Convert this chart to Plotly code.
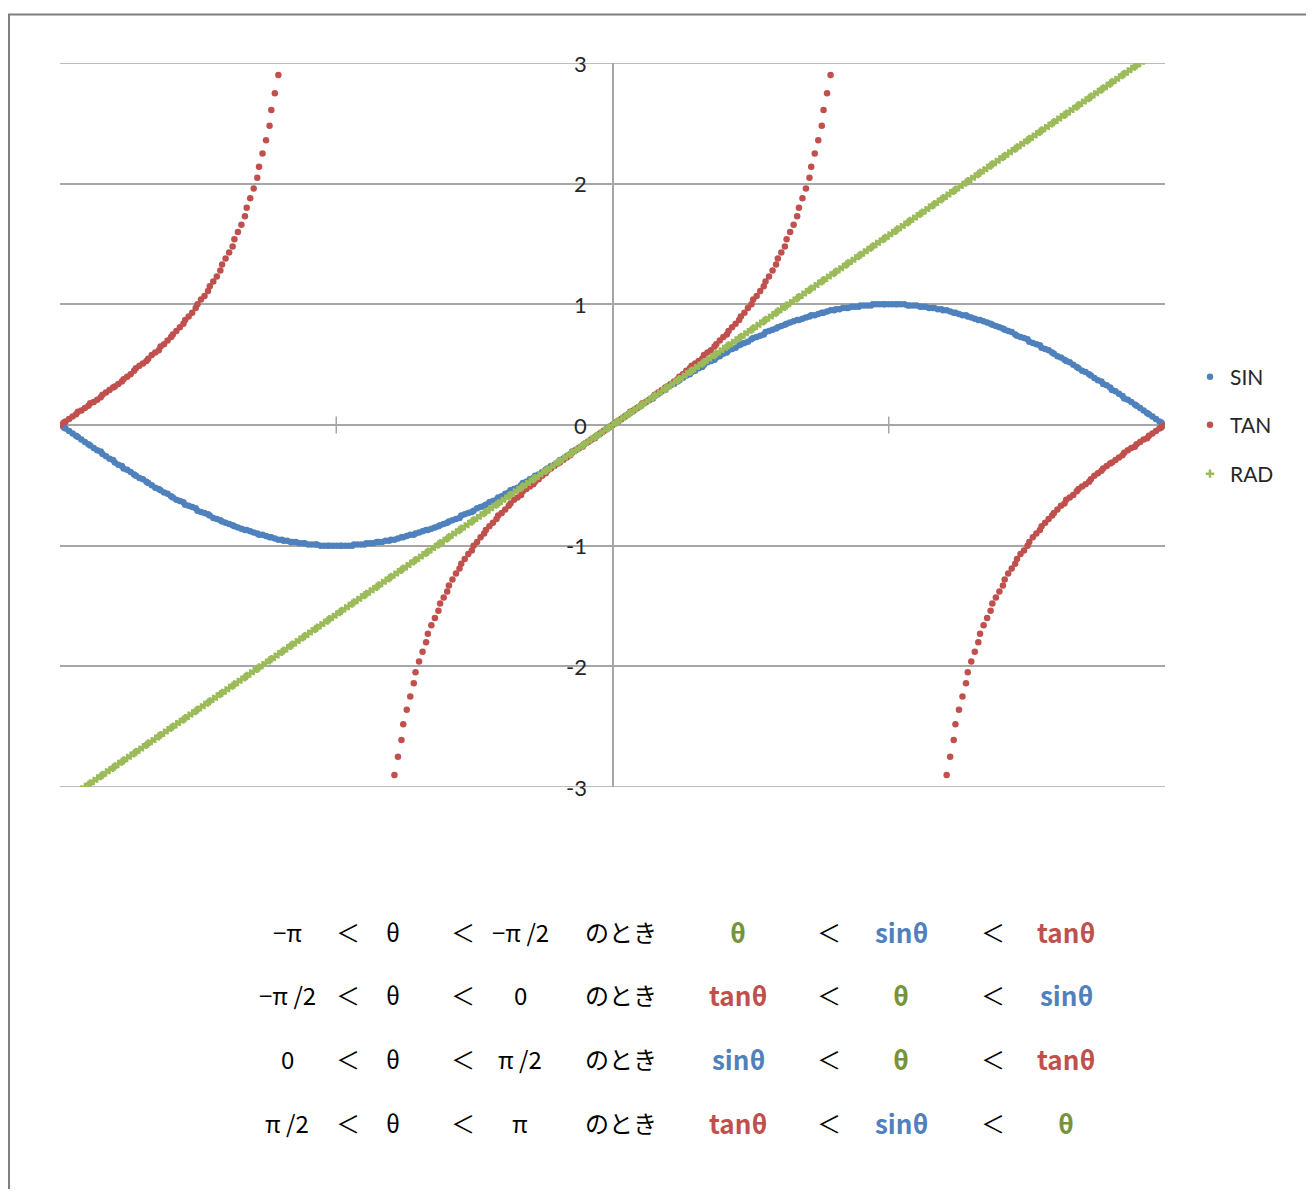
import math
import plotly.graph_objects as go

# ---------------- data (one point per degree, -180..180) ----------------
# RAD column: theta in radians (used as x for every series and as the RAD series)
RAD = [
    -3.14, -3.12, -3.11, -3.09, -3.07, -3.05, -3.04, -3.02, -3.00, -2.98,
    -2.97, -2.95, -2.93, -2.91, -2.90, -2.88, -2.86, -2.84, -2.83, -2.81,
    -2.79, -2.78, -2.76, -2.74, -2.72, -2.71, -2.69, -2.67, -2.65, -2.64,
    -2.62, -2.60, -2.58, -2.57, -2.55, -2.53, -2.51, -2.50, -2.48, -2.46,
    -2.44, -2.43, -2.41, -2.39, -2.37, -2.36, -2.34, -2.32, -2.30, -2.29,
    -2.27, -2.25, -2.23, -2.22, -2.20, -2.18, -2.16, -2.15, -2.13, -2.11,
    -2.09, -2.08, -2.06, -2.04, -2.02, -2.01, -1.99, -1.97, -1.95, -1.94,
    -1.92, -1.90, -1.88, -1.87, -1.85, -1.83, -1.82, -1.80, -1.78, -1.76,
    -1.75, -1.73, -1.71, -1.69, -1.68, -1.66, -1.64, -1.62, -1.61, -1.59,
    -1.57, -1.55, -1.54, -1.52, -1.50, -1.48, -1.47, -1.45, -1.43, -1.41,
    -1.40, -1.38, -1.36, -1.34, -1.33, -1.31, -1.29, -1.27, -1.26, -1.24,
    -1.22, -1.20, -1.19, -1.17, -1.15, -1.13, -1.12, -1.10, -1.08, -1.06,
    -1.05, -1.03, -1.01, -0.99, -0.98, -0.96, -0.94, -0.93, -0.91, -0.89,
    -0.87, -0.86, -0.84, -0.82, -0.80, -0.79, -0.77, -0.75, -0.73, -0.72,
    -0.70, -0.68, -0.66, -0.65, -0.63, -0.61, -0.59, -0.58, -0.56, -0.54,
    -0.52, -0.51, -0.49, -0.47, -0.45, -0.44, -0.42, -0.40, -0.38, -0.37,
    -0.35, -0.33, -0.31, -0.30, -0.28, -0.26, -0.24, -0.23, -0.21, -0.19,
    -0.17, -0.16, -0.14, -0.12, -0.10, -0.09, -0.07, -0.05, -0.03, -0.02,
    0.00, 0.02, 0.03, 0.05, 0.07, 0.09, 0.10, 0.12, 0.14, 0.16,
    0.17, 0.19, 0.21, 0.23, 0.24, 0.26, 0.28, 0.30, 0.31, 0.33,
    0.35, 0.37, 0.38, 0.40, 0.42, 0.44, 0.45, 0.47, 0.49, 0.51,
    0.52, 0.54, 0.56, 0.58, 0.59, 0.61, 0.63, 0.65, 0.66, 0.68,
    0.70, 0.72, 0.73, 0.75, 0.77, 0.79, 0.80, 0.82, 0.84, 0.86,
    0.87, 0.89, 0.91, 0.93, 0.94, 0.96, 0.98, 0.99, 1.01, 1.03,
    1.05, 1.06, 1.08, 1.10, 1.12, 1.13, 1.15, 1.17, 1.19, 1.20,
    1.22, 1.24, 1.26, 1.27, 1.29, 1.31, 1.33, 1.34, 1.36, 1.38,
    1.40, 1.41, 1.43, 1.45, 1.47, 1.48, 1.50, 1.52, 1.54, 1.55,
    1.57, 1.59, 1.61, 1.62, 1.64, 1.66, 1.68, 1.69, 1.71, 1.73,
    1.75, 1.76, 1.78, 1.80, 1.82, 1.83, 1.85, 1.87, 1.88, 1.90,
    1.92, 1.94, 1.95, 1.97, 1.99, 2.01, 2.02, 2.04, 2.06, 2.08,
    2.09, 2.11, 2.13, 2.15, 2.16, 2.18, 2.20, 2.22, 2.23, 2.25,
    2.27, 2.29, 2.30, 2.32, 2.34, 2.36, 2.37, 2.39, 2.41, 2.43,
    2.44, 2.46, 2.48, 2.50, 2.51, 2.53, 2.55, 2.57, 2.58, 2.60,
    2.62, 2.64, 2.65, 2.67, 2.69, 2.71, 2.72, 2.74, 2.76, 2.78,
    2.79, 2.81, 2.83, 2.84, 2.86, 2.88, 2.90, 2.91, 2.93, 2.95,
    2.97, 2.98, 3.00, 3.02, 3.04, 3.05, 3.07, 3.09, 3.11, 3.12,
    3.14,
]

SIN = [
    0.00, -0.02, -0.03, -0.05, -0.07, -0.09, -0.10, -0.12, -0.14, -0.16,
    -0.17, -0.19, -0.21, -0.22, -0.24, -0.26, -0.28, -0.29, -0.31, -0.33,
    -0.34, -0.36, -0.37, -0.39, -0.41, -0.42, -0.44, -0.45, -0.47, -0.48,
    -0.50, -0.52, -0.53, -0.54, -0.56, -0.57, -0.59, -0.60, -0.62, -0.63,
    -0.64, -0.66, -0.67, -0.68, -0.69, -0.71, -0.72, -0.73, -0.74, -0.75,
    -0.77, -0.78, -0.79, -0.80, -0.81, -0.82, -0.83, -0.84, -0.85, -0.86,
    -0.87, -0.87, -0.88, -0.89, -0.90, -0.91, -0.91, -0.92, -0.93, -0.93,
    -0.94, -0.95, -0.95, -0.96, -0.96, -0.97, -0.97, -0.97, -0.98, -0.98,
    -0.98, -0.99, -0.99, -0.99, -0.99, -1.00, -1.00, -1.00, -1.00, -1.00,
    -1.00, -1.00, -1.00, -1.00, -1.00, -1.00, -0.99, -0.99, -0.99, -0.99,
    -0.98, -0.98, -0.98, -0.97, -0.97, -0.97, -0.96, -0.96, -0.95, -0.95,
    -0.94, -0.93, -0.93, -0.92, -0.91, -0.91, -0.90, -0.89, -0.88, -0.87,
    -0.87, -0.86, -0.85, -0.84, -0.83, -0.82, -0.81, -0.80, -0.79, -0.78,
    -0.77, -0.75, -0.74, -0.73, -0.72, -0.71, -0.69, -0.68, -0.67, -0.66,
    -0.64, -0.63, -0.62, -0.60, -0.59, -0.57, -0.56, -0.54, -0.53, -0.52,
    -0.50, -0.48, -0.47, -0.45, -0.44, -0.42, -0.41, -0.39, -0.37, -0.36,
    -0.34, -0.33, -0.31, -0.29, -0.28, -0.26, -0.24, -0.22, -0.21, -0.19,
    -0.17, -0.16, -0.14, -0.12, -0.10, -0.09, -0.07, -0.05, -0.03, -0.02,
    0.00, 0.02, 0.03, 0.05, 0.07, 0.09, 0.10, 0.12, 0.14, 0.16,
    0.17, 0.19, 0.21, 0.22, 0.24, 0.26, 0.28, 0.29, 0.31, 0.33,
    0.34, 0.36, 0.37, 0.39, 0.41, 0.42, 0.44, 0.45, 0.47, 0.48,
    0.50, 0.52, 0.53, 0.54, 0.56, 0.57, 0.59, 0.60, 0.62, 0.63,
    0.64, 0.66, 0.67, 0.68, 0.69, 0.71, 0.72, 0.73, 0.74, 0.75,
    0.77, 0.78, 0.79, 0.80, 0.81, 0.82, 0.83, 0.84, 0.85, 0.86,
    0.87, 0.87, 0.88, 0.89, 0.90, 0.91, 0.91, 0.92, 0.93, 0.93,
    0.94, 0.95, 0.95, 0.96, 0.96, 0.97, 0.97, 0.97, 0.98, 0.98,
    0.98, 0.99, 0.99, 0.99, 0.99, 1.00, 1.00, 1.00, 1.00, 1.00,
    1.00, 1.00, 1.00, 1.00, 1.00, 1.00, 0.99, 0.99, 0.99, 0.99,
    0.98, 0.98, 0.98, 0.97, 0.97, 0.97, 0.96, 0.96, 0.95, 0.95,
    0.94, 0.93, 0.93, 0.92, 0.91, 0.91, 0.90, 0.89, 0.88, 0.87,
    0.87, 0.86, 0.85, 0.84, 0.83, 0.82, 0.81, 0.80, 0.79, 0.78,
    0.77, 0.75, 0.74, 0.73, 0.72, 0.71, 0.69, 0.68, 0.67, 0.66,
    0.64, 0.63, 0.62, 0.60, 0.59, 0.57, 0.56, 0.54, 0.53, 0.52,
    0.50, 0.48, 0.47, 0.45, 0.44, 0.42, 0.41, 0.39, 0.37, 0.36,
    0.34, 0.33, 0.31, 0.29, 0.28, 0.26, 0.24, 0.22, 0.21, 0.19,
    0.17, 0.16, 0.14, 0.12, 0.10, 0.09, 0.07, 0.05, 0.03, 0.02,
    0.00,
]

# None = point off the visible -3..3 range
TAN = [
    0.00, 0.02, 0.03, 0.05, 0.07, 0.09, 0.11, 0.12, 0.14, 0.16,
    0.18, 0.19, 0.21, 0.23, 0.25, 0.27, 0.29, 0.31, 0.32, 0.34,
    0.36, 0.38, 0.40, 0.42, 0.45, 0.47, 0.49, 0.51, 0.53, 0.55,
    0.58, 0.60, 0.62, 0.65, 0.67, 0.70, 0.73, 0.75, 0.78, 0.81,
    0.84, 0.87, 0.90, 0.93, 0.97, 1.00, 1.04, 1.07, 1.11, 1.15,
    1.19, 1.23, 1.28, 1.33, 1.38, 1.43, 1.48, 1.54, 1.60, 1.66,
    1.73, 1.80, 1.88, 1.96, 2.05, 2.14, 2.25, 2.36, 2.48, 2.61,
    2.75, 2.90, None, None, None, None, None, None, None, None,
    None, None, None, None, None, None, None, None, None, None,
    None, None, None, None, None, None, None, None, None, None,
    None, None, None, None, None, None, None, None, None, -2.90,
    -2.75, -2.61, -2.48, -2.36, -2.25, -2.14, -2.05, -1.96, -1.88, -1.80,
    -1.73, -1.66, -1.60, -1.54, -1.48, -1.43, -1.38, -1.33, -1.28, -1.23,
    -1.19, -1.15, -1.11, -1.07, -1.04, -1.00, -0.97, -0.93, -0.90, -0.87,
    -0.84, -0.81, -0.78, -0.75, -0.73, -0.70, -0.67, -0.65, -0.62, -0.60,
    -0.58, -0.55, -0.53, -0.51, -0.49, -0.47, -0.45, -0.42, -0.40, -0.38,
    -0.36, -0.34, -0.32, -0.31, -0.29, -0.27, -0.25, -0.23, -0.21, -0.19,
    -0.18, -0.16, -0.14, -0.12, -0.11, -0.09, -0.07, -0.05, -0.03, -0.02,
    0.00, 0.02, 0.03, 0.05, 0.07, 0.09, 0.11, 0.12, 0.14, 0.16,
    0.18, 0.19, 0.21, 0.23, 0.25, 0.27, 0.29, 0.31, 0.32, 0.34,
    0.36, 0.38, 0.40, 0.42, 0.45, 0.47, 0.49, 0.51, 0.53, 0.55,
    0.58, 0.60, 0.62, 0.65, 0.67, 0.70, 0.73, 0.75, 0.78, 0.81,
    0.84, 0.87, 0.90, 0.93, 0.97, 1.00, 1.04, 1.07, 1.11, 1.15,
    1.19, 1.23, 1.28, 1.33, 1.38, 1.43, 1.48, 1.54, 1.60, 1.66,
    1.73, 1.80, 1.88, 1.96, 2.05, 2.14, 2.25, 2.36, 2.48, 2.61,
    2.75, 2.90, None, None, None, None, None, None, None, None,
    None, None, None, None, None, None, None, None, None, None,
    None, None, None, None, None, None, None, None, None, None,
    None, None, None, None, None, None, None, None, None, -2.90,
    -2.75, -2.61, -2.48, -2.36, -2.25, -2.14, -2.05, -1.96, -1.88, -1.80,
    -1.73, -1.66, -1.60, -1.54, -1.48, -1.43, -1.38, -1.33, -1.28, -1.23,
    -1.19, -1.15, -1.11, -1.07, -1.04, -1.00, -0.97, -0.93, -0.90, -0.87,
    -0.84, -0.81, -0.78, -0.75, -0.73, -0.70, -0.67, -0.65, -0.62, -0.60,
    -0.58, -0.55, -0.53, -0.51, -0.49, -0.47, -0.45, -0.42, -0.40, -0.38,
    -0.36, -0.34, -0.32, -0.31, -0.29, -0.27, -0.25, -0.23, -0.21, -0.19,
    -0.18, -0.16, -0.14, -0.12, -0.11, -0.09, -0.07, -0.05, -0.03, -0.02,
    0.00,
]

SERIES_NAMES = ["SIN", "TAN", "RAD"]
Y_TICKS = [-3, -2, -1, 0, 1, 2, 3]
Y_EDGES = [-3, 3]
X_RANGE = [-math.pi, math.pi]
X_TICK_MARKS = [-math.pi / 2, math.pi / 2]

LEFT_ROWS = [
    ["−π", "＜", "θ", "＜", "−π /2", "のとき"],
    ["−π /2", "＜", "θ", "＜", "0", "のとき"],
    ["0", "＜", "θ", "＜", "π /2", "のとき"],
    ["π /2", "＜", "θ", "＜", "π", "のとき"],
]
RIGHT_ROWS = [
    ["θ", "＜", "sinθ", "＜", "tanθ"],
    ["tanθ", "＜", "θ", "＜", "sinθ"],
    ["sinθ", "＜", "θ", "＜", "tanθ"],
    ["tanθ", "＜", "sinθ", "＜", "θ"],
]

# ---------------- styling / layout constants ----------------
C_SIN, C_TAN, C_RAD = "#4F81BD", "#C0504D", "#9BBB59"
WORD_COLORS = {"θ": "#77933C", "sinθ": "#4F81BD", "tanθ": "#C0504D", "＜": "#000000"}
GRID = "#A6A6A6"

OFF = 8                      # body margin of the page
FIG_W, FIG_H = 1298, 1181
M_L, M_T, PLOT_W, PLOT_H = 52, 55, 1105, 724
M_R = FIG_W - M_L - PLOT_W
M_B = FIG_H - M_T - PLOT_H


def px(x):
    return (x - OFF - M_L) / PLOT_W


def py(y):
    return 1 - (y - OFF - M_T) / PLOT_H


ROW_Y = [931, 994, 1058, 1122]
LEFT_COL_X = [287, 348, 393, 463, 520, 621]
RIGHT_COL_X = [738, 829, 901, 993, 1066]
LEGEND_Y = [377, 425, 474]

fig = go.Figure()
fig.add_trace(go.Scatter(
    x=RAD, y=SIN, mode="markers", name=SERIES_NAMES[0], legend="legend",
    marker=dict(color=C_SIN, size=6.5, line=dict(width=0)),
))
fig.add_trace(go.Scatter(
    x=RAD, y=TAN, mode="markers", name=SERIES_NAMES[1], legend="legend2",
    marker=dict(color=C_TAN, size=6.5, line=dict(width=0)),
))
fig.add_trace(go.Scatter(
    x=RAD, y=RAD, mode="markers", name=SERIES_NAMES[2], legend="legend3",
    marker=dict(symbol="cross-thin", color=C_RAD, size=6, line=dict(color=C_RAD, width=2.5)),
))

legend_font = dict(family="Lato, Liberation Sans, sans-serif", size=21, color="#262626")
legends = {}
for i, key in enumerate(["legend", "legend2", "legend3"]):
    legends[key] = dict(
        x=px(1190), y=py(LEGEND_Y[i]), xanchor="left", yanchor="middle",
        font=legend_font, bgcolor="rgba(0,0,0,0)", borderwidth=0,
    )

annotations = []
# y tick labels sitting beside the vertical axis at x = 0
for v in Y_TICKS:
    annotations.append(dict(
        x=0, y=v, xref="x", yref="y", text=str(v), showarrow=False,
        xanchor="right", yanchor="middle", xshift=-24,
        font=dict(family="Lato, Liberation Sans, sans-serif", size=22, color="#262626"),
    ))

for r, row in enumerate(LEFT_ROWS):
    for c, tok in enumerate(row):
        annotations.append(dict(
            x=px(LEFT_COL_X[c]), y=py(ROW_Y[r]), xref="paper", yref="paper",
            text=tok, showarrow=False, xanchor="center", yanchor="middle",
            font=dict(family="Noto Sans CJK JP", size=24, color="#000000"),
        ))
for r, row in enumerate(RIGHT_ROWS):
    for c, tok in enumerate(row):
        txt = tok if tok == "＜" else "<b>" + tok + "</b>"
        annotations.append(dict(
            x=px(RIGHT_COL_X[c]), y=py(ROW_Y[r]), xref="paper", yref="paper",
            text=txt, showarrow=False, xanchor="center", yanchor="middle",
            font=dict(family="Noto Sans CJK JP", size=26 if tok != "＜" else 24,
                      color=WORD_COLORS[tok]),
        ))

shapes = []
# gridlines at the range edges (plotly omits them)
for yv in Y_EDGES:
    shapes.append(dict(type="line", xref="x", yref="y", x0=X_RANGE[0], x1=X_RANGE[1],
                       y0=yv, y1=yv, line=dict(color=GRID, width=1.5), layer="below"))
for xv in X_TICK_MARKS:
    shapes.append(dict(type="line", xref="x", yref="y", x0=xv, x1=xv, y0=-0.07, y1=0.07,
                       line=dict(color=GRID, width=1.5), layer="below"))
# outer frame (left and top edges visible)
shapes.append(dict(type="line", xref="paper", yref="paper",
                   x0=px(9), x1=px(9), y0=py(14), y1=py(1210),
                   line=dict(color="#7F7F7F", width=2)))
shapes.append(dict(type="line", xref="paper", yref="paper",
                   x0=px(8), x1=px(1330), y0=py(14.5), y1=py(14.5),
                   line=dict(color="#7F7F7F", width=2)))

fig.update_layout(
    width=FIG_W, height=FIG_H,
    margin=dict(l=M_L, r=M_R, t=M_T, b=M_B),
    paper_bgcolor="white", plot_bgcolor="white",
    xaxis=dict(range=X_RANGE, showgrid=False, zeroline=True,
               zerolinecolor=GRID, zerolinewidth=1.5, showticklabels=False,
               ticks="", showline=False),
    yaxis=dict(range=[-3, 3], tickvals=Y_TICKS, showgrid=True, gridcolor=GRID,
               gridwidth=1.5, zeroline=True, zerolinecolor=GRID, zerolinewidth=1.5,
               showticklabels=False, ticks="", showline=False),
    showlegend=True,
    annotations=annotations,
    shapes=shapes,
    **legends,
)

fig.write_html("out.html")
